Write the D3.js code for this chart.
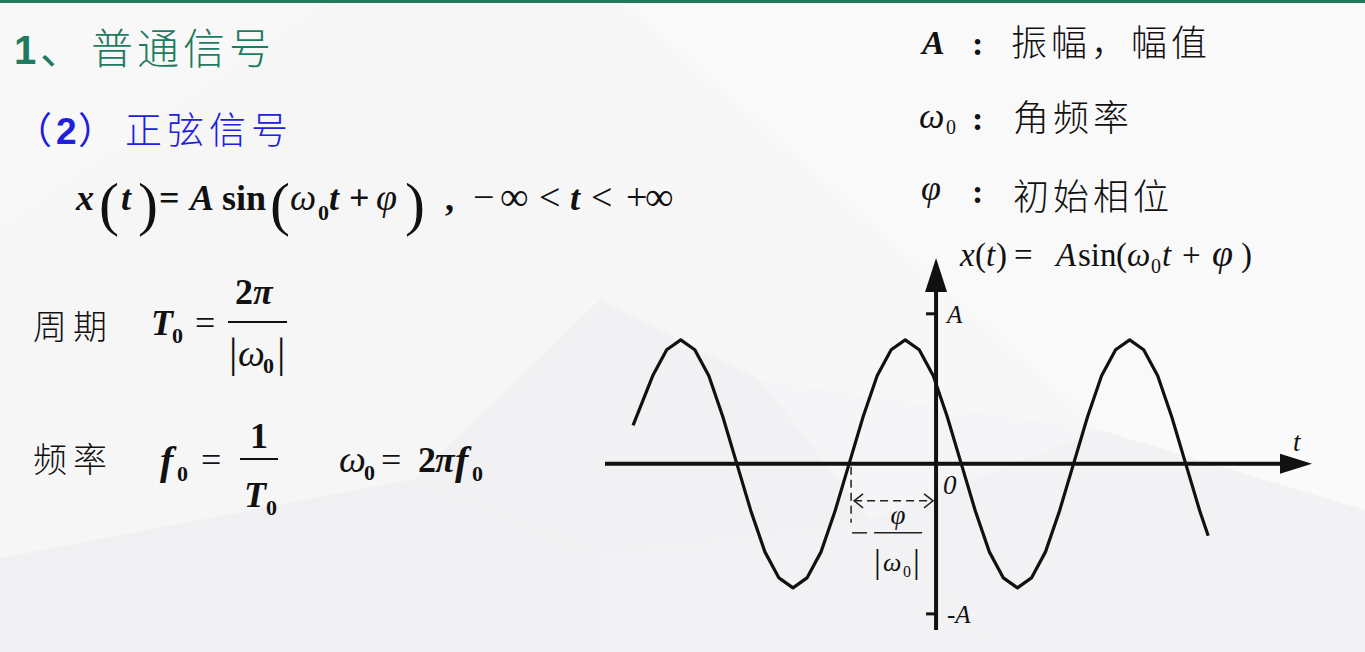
<!DOCTYPE html>
<html>
<head>
<meta charset="utf-8">
<script src="https://cdn.jsdelivr.net/npm/d3@7"></script>
<style>
  html, body { margin: 0; padding: 0; background: #f4f4f6; }
  svg { display: block; }
</style>
</head>
<body>
<div id="chart"></div>
<script>
// ---------------- DATA ----------------
// sampled sine wave read from the picture: t (time units, 0 at vertical axis) and value (amplitude units)
const curveT = [-10.8, -10.1, -9.6, -9.1, -8.6, -8.1, -7.6, -7.1, -6.6, -6.1, -5.6, -5.1, -4.6, -4.1, -3.6,
                -3.1, -2.6, -2.1, -1.6, -1.1, -0.6, -0.1, 0.4, 0.9, 1.4, 1.9, 2.4, 2.9, 3.4, 3.9, 4.4,
                4.9, 5.4, 5.9, 6.4, 6.9, 7.4, 7.9, 8.4, 8.9, 9.4, 9.7];
const curveV = [0.31, 0.71, 0.92, 1, 0.92, 0.71, 0.38, 0, -0.38, -0.71, -0.92, -1, -0.92, -0.71, -0.38,
                0, 0.38, 0.71, 0.92, 1, 0.92, 0.71, 0.38, 0, -0.38, -0.71, -0.92, -1, -0.92, -0.71, -0.38,
                0, 0.38, 0.71, 0.92, 1, 0.92, 0.71, 0.38, 0, -0.38, -0.58];
const yTickValues = [1.21, -1.21];
const yTickLabels = ["A", "-A"];
const phaseZero = -3.1;          // -φ/|ω0|, rising zero crossing
const xDomain = [-11.8, 13.4];   // horizontal axis extent
const yDomain = [-1.34, 1.66];   // vertical axis extent

// ---------------- SETUP ----------------
const W = 1365, H = 652;
const SERIF = "'Liberation Serif', 'Times New Roman', serif";
const CJK = "'Noto Sans CJK SC', 'Noto Sans', sans-serif";
const SANS = "'Liberation Sans', Arial, sans-serif";
const GREEN = "#1f7a60", BLUE = "#2020dc", INK = "#111";

const svg = d3.select("#chart").append("svg").attr("width", W).attr("height", H);

// background low-poly
const bg = svg.append("g");
bg.append("rect").attr("width", W).attr("height", H).attr("fill", "#f5f5f7");
const polys = [
  {p: [[0,0],[330,0],[0,230]], f: "#f8f8f9"},
  {p: [[330,0],[620,0],[1100,430],[760,380]], f: "#f7f7f8"},
  {p: [[620,0],[1365,0],[1365,130],[1100,430]], f: "#f9f9fa"},
  {p: [[0,230],[330,0],[760,380],[414,479],[0,558]], f: "#f6f6f7"},
  {p: [[0,558],[414,479],[600,556],[600,652],[0,652]], f: "#f0f0f2"},
  {p: [[414,479],[760,380],[870,520],[600,556]], f: "#f7f7f8"},
  {p: [[600,556],[870,520],[1000,652],[600,652]], f: "#f2f2f4"},
  {p: [[1100,430],[1365,130],[1365,510]], f: "#fafafb"},
  {p: [[1100,430],[1365,510],[1365,652],[1000,652],[870,520]], f: "#f2f2f4"},
  {p: [[600,300],[760,380],[870,520],[600,556],[414,479]], f: "#f1f1f3"}
];
bg.selectAll("polygon").data(polys).join("polygon")
  .attr("points", d => d.p.map(q => q.join(",")).join(" "))
  .attr("fill", d => d.f);

// top green bar
svg.append("rect").attr("x", 0).attr("y", 0).attr("width", W).attr("height", 3).attr("fill", GREEN);

// text helper
function T(x, y, s, o = {}) {
  const t = svg.append("text").attr("x", x).attr("y", y).text(s)
    .attr("font-family", o.ff || SERIF)
    .attr("font-size", o.fs || 36)
    .attr("fill", o.fill || INK);
  if (o.b) t.attr("font-weight", "bold");
  if (o.w) t.attr("font-weight", o.w);
  if (o.i) t.attr("font-style", "italic");
  if (o.ls) t.attr("letter-spacing", o.ls);
  if (o.anchor) t.attr("text-anchor", o.anchor);
  return t;
}
function bar(x1, x2, y, w = 2) {
  svg.append("line").attr("x1", x1).attr("x2", x2).attr("y1", y).attr("y2", y)
    .attr("stroke", INK).attr("stroke-width", w);
}

// ---------------- TITLES ----------------
T(14, 64, "1", {ff: SANS, fs: 40, b: true, fill: GREEN});
T(40, 64, "、", {ff: CJK, fs: 42, fill: GREEN});
T(91, 64, "普通信号", {ff: CJK, fs: 42, fill: GREEN, ls: 4, w: 300});

T(15, 144, "（", {ff: CJK, fs: 37, fill: BLUE});
T(56, 144, "2", {ff: SANS, fs: 37, b: true, fill: BLUE});
T(78, 144, "）", {ff: CJK, fs: 37, fill: BLUE});
T(125, 144, "正弦信号", {ff: CJK, fs: 37, fill: BLUE, ls: 5, w: 300});

// ---------------- MAIN FORMULA ----------------
const by = 210;
T(76, by, "x", {b: true, i: true});
T(99, 224, "(", {fs: 60});
T(121, by, "t", {b: true, i: true});
T(138, 224, ")", {fs: 60});
T(159, by, "=", {b: true});
T(190, by, "A", {b: true, i: true});
T(222, by, "sin", {b: true});
T(270, 224, "(", {fs: 60});
T(290, by, "ω", {i: true, fs: 37});
T(318, 220, "0", {b: true, fs: 22});
T(329, by, "t", {b: true, i: true});
T(349, by, "+", {b: true});
T(376, by, "φ", {i: true, fs: 38});
T(405, 224, ")", {fs: 60});
T(445, by, ",", {b: true});
T(473, by, "−", {fs: 38});
T(500, by, "∞", {fs: 40});
T(539, by, "<", {fs: 38});
T(570, by, "t", {b: true, i: true});
T(591, by, "<", {fs: 38});
T(626, by, "+", {fs: 38});
T(645, by, "∞", {fs: 40});

// ---------------- PERIOD ----------------
T(33, 339, "周期", {ff: CJK, fs: 34, ls: 6, w: 300});
T(151, 335, "T", {b: true, i: true, fs: 36});
T(172, 343, "0", {b: true, fs: 22});
T(195, 335, "=", {fs: 36});
bar(228, 287, 322);
T(235, 304, "2", {b: true, fs: 36});
T(253, 304, "π", {b: true, i: true, fs: 36});
T(229, 367, "|", {fs: 42});
T(238, 366, "ω", {i: true, fs: 38});
T(263, 373, "0", {b: true, fs: 22});
T(277, 367, "|", {fs: 42});

// ---------------- FREQUENCY ----------------
T(33, 472, "频率", {ff: CJK, fs: 34, ls: 6, w: 300});
T(160, 474, "f", {b: true, i: true, fs: 40});
T(177, 481, "0", {b: true, fs: 22});
T(201, 472, "=", {fs: 36});
bar(240, 278, 459);
T(250, 448, "1", {b: true, fs: 36});
T(244, 507, "T", {b: true, i: true, fs: 36});
T(266, 515, "0", {b: true, fs: 22});
T(339, 472, "ω", {i: true, fs: 38});
T(364, 480, "0", {b: true, fs: 22});
T(381, 472, "=", {fs: 36});
T(418, 472, "2", {b: true, fs: 36});
T(435, 472, "π", {b: true, i: true, fs: 36});
T(455, 474, "f", {b: true, i: true, fs: 40});
T(472, 481, "0", {b: true, fs: 22});

// ---------------- LEGEND ----------------
T(922, 54, "A", {b: true, i: true, fs: 34});
T(972, 55, ":", {b: true, fs: 34});
T(1011, 56, "振幅，幅值", {ff: CJK, fs: 36, ls: 4, w: 300});
T(919, 128, "ω", {i: true, fs: 36});
T(946, 134, "0", {fs: 20});
T(972, 130, ":", {b: true, fs: 34});
T(1013, 131, "角频率", {ff: CJK, fs: 36, ls: 4, w: 300});
T(921, 200, "φ", {i: true, fs: 36});
T(972, 203, ":", {b: true, fs: 34});
T(1013, 210, "初始相位", {ff: CJK, fs: 36, ls: 4, w: 300});

// plot formula
const py = 266, pf = 33;
T(960, py, "x", {i: true, fs: pf});
T(975, py, "(", {fs: pf});
T(986, py, "t", {i: true, fs: pf});
T(996, py, ")", {fs: pf});
T(1014, py, "=", {fs: pf});
T(1056, py, "A", {i: true, fs: pf});
T(1078, py, "sin", {fs: pf});
T(1116, py, "(", {fs: pf});
T(1127, py, "ω", {i: true, fs: pf});
T(1151, 273, "0", {fs: 20});
T(1162, py, "t", {i: true, fs: pf});
T(1182, py, "+", {fs: pf});
T(1212, py, "φ", {i: true, fs: 38});
T(1241, py, ")", {fs: pf});

// ---------------- PLOT ----------------
const x = d3.scaleLinear().domain(xDomain).range([605, 1312]);
const y = d3.scaleLinear().domain(yDomain).range([630, 258]);
const x0 = x(0), y0 = y(0);

const plot = svg.append("g");
// horizontal axis
plot.append("line").attr("x1", x(xDomain[0])).attr("x2", x(xDomain[1]) - 20)
  .attr("y1", y0).attr("y2", y0).attr("stroke", INK).attr("stroke-width", 4);
plot.append("path")
  .attr("d", `M${x(xDomain[1])},${y0} L${x(xDomain[1]) - 32},${y0 - 10} L${x(xDomain[1]) - 32},${y0 + 10} Z`)
  .attr("fill", INK);
// vertical axis
plot.append("line").attr("x1", x0).attr("x2", x0)
  .attr("y1", y(yDomain[0])).attr("y2", y(yDomain[1]) + 20).attr("stroke", INK).attr("stroke-width", 4);
plot.append("path")
  .attr("d", `M${x0},${y(yDomain[1])} L${x0 - 11},${y(yDomain[1]) + 34} L${x0 + 11},${y(yDomain[1]) + 34} Z`)
  .attr("fill", INK);

// y ticks
yTickValues.forEach((v, i) => {
  plot.append("line").attr("x1", x0 - 10).attr("x2", x0).attr("y1", y(v)).attr("y2", y(v))
    .attr("stroke", INK).attr("stroke-width", 3);
  T(x0 + 11, y(v) + 9, yTickLabels[i], {i: true, fs: 25});
});

// axis labels
T(x0 + 7, y0 + 30, "0", {i: true, fs: 27});
T(x(xDomain[1]) - 19, y0 - 13, "t", {i: true, fs: 27});

// sine curve
const pts = curveT.map((t, i) => [t, curveV[i]]);
plot.append("path").datum(pts)
  .attr("d", d3.line().x(d => x(d[0])).y(d => y(d[1])).curve(d3.curveLinear))
  .attr("fill", "none").attr("stroke", INK).attr("stroke-width", 3.2).attr("stroke-linejoin", "round");

// phase annotation
const xp = x(phaseZero) + 2;
plot.append("line").attr("x1", xp).attr("x2", xp).attr("y1", y0 + 3).attr("y2", y0 + 59)
  .attr("stroke", "#222").attr("stroke-width", 1.5).attr("stroke-dasharray", "8,5");
plot.append("line").attr("x1", xp + 3).attr("x2", x0 - 3).attr("y1", y0 + 37).attr("y2", y0 + 37)
  .attr("stroke", "#222").attr("stroke-width", 1.5).attr("stroke-dasharray", "8,5");
plot.append("path").attr("d", `M${xp + 12},${y0 + 30} L${xp + 3},${y0 + 37} L${xp + 12},${y0 + 44}`)
  .attr("fill", "none").attr("stroke", "#222").attr("stroke-width", 1.5);
plot.append("path").attr("d", `M${x0 - 12},${y0 + 30} L${x0 - 3},${y0 + 37} L${x0 - 12},${y0 + 44}`)
  .attr("fill", "none").attr("stroke", "#222").attr("stroke-width", 1.5);
// -φ/|ω0|
plot.append("line").attr("x1", xp + 1).attr("x2", xp + 16).attr("y1", y0 + 69).attr("y2", y0 + 69)
  .attr("stroke", "#222").attr("stroke-width", 1.5);
plot.append("line").attr("x1", xp + 23).attr("x2", xp + 71).attr("y1", y0 + 69).attr("y2", y0 + 69)
  .attr("stroke", "#222").attr("stroke-width", 1.5);
T(xp + 47, y0 + 60, "φ", {i: true, fs: 27, anchor: "middle"});
T(xp + 23, y0 + 109, "|", {fs: 34});
T(xp + 32, y0 + 107, "ω", {i: true, fs: 26});
T(xp + 52, y0 + 113, "0", {fs: 16});
T(xp + 62, y0 + 109, "|", {fs: 34});
</script>
</body>
</html>
